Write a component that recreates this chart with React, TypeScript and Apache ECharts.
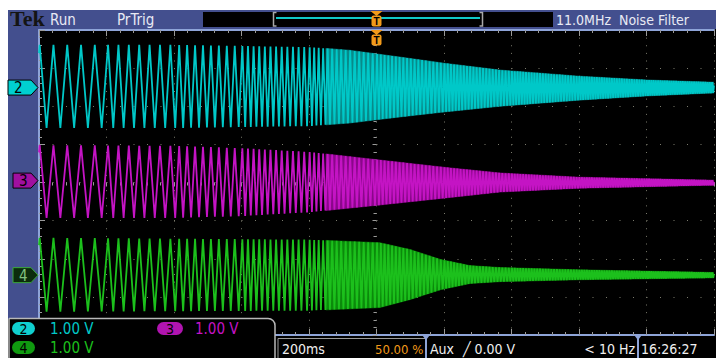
import React, { useEffect, useRef } from "react";
import * as echarts from "echarts";

// ---------- axes (200 ms/div, 1.00 V/div, trigger at 50 %) ----------
const TIME_MIN = -1000;
const TIME_MAX = 1000;
const TIME_STEP = 200;
const VOLT_MIN = -4;
const VOLT_MAX = 4;
const VOLT_STEP = 1;

// ---------- channels ----------
const channelNames = ["2", "3", "4"];
const channelOffsets = [2.49, 0.05, -2.43];
const channelScales = ["1.00 V", "1.00 V", "1.00 V"];

// envelopes: time (ms), upper / lower (V)
const ch2EnvTime = [-1000, -600, -200, -80, 70, 200, 366, 600, 800, 1000];
const ch2EnvUpper = [1.12, 1.12, 1.06, 0.98, 0.8, 0.64, 0.46, 0.3, 0.2, 0.14];
const ch2EnvLower = [-1.06, -1.06, -1.01, -0.93, -0.77, -0.64, -0.49, -0.33, -0.22, -0.14];

const ch3EnvTime = [-1000, -600, -400, -200, 10, 200, 366, 600, 1000];
const ch3EnvUpper = [0.93, 0.91, 0.85, 0.75, 0.54, 0.35, 0.2, 0.09, 0.01];
const ch3EnvLower = [-0.98, -0.98, -0.93, -0.83, -0.64, -0.46, -0.3, -0.2, -0.12];

const ch4EnvTime = [-1000, -200, 10, 100, 190, 277, 366, 600, 1000];
const ch4EnvUpper = [0.98, 0.93, 0.85, 0.67, 0.41, 0.25, 0.2, 0.14, 0.07];
const ch4EnvLower = [-0.96, -0.93, -0.85, -0.64, -0.38, -0.22, -0.17, -0.12, -0.07];

// sweep: cycles counted in each 200 ms division
const cyclesPerDiv = [4.9, 6.5, 8.5, 12, 15, 18, 21, 24, 27, 30];
const startPhase = -0.55; // cycles at left edge (0 = trough, 0.5 = crest)
const denseFrom = -150; // ms where traces merge into a band

const COLORS = {
  blue: "#434f8e",
  edge: "#8ea4d8",
  dot: "#7a7a6c",
  tick: "#9a9a9a",
  text: "#e8eaf4",
  orange: "#f29a1a",
  trace: ["#00c8c8", "#c414c4", "#1cc01c"],
  band: ["#078a8a", "#8a078a", "#0b8a0b"],
};

function interp(ts: number[], vs: number[], t: number) {
  if (t <= ts[0]) return vs[0];
  for (let i = 1; i < ts.length; i++) {
    if (t <= ts[i]) {
      const f = (t - ts[i - 1]) / (ts[i] - ts[i - 1]);
      return vs[i - 1] + (vs[i] - vs[i - 1]) * f;
    }
  }
  return vs[vs.length - 1];
}

function buildTrace(envT: number[], envU: number[], envL: number[], off: number) {
  const pts: number[][] = [];
  const val = (t: number, ph: number) => {
    const u = interp(envT, envU, t);
    const l = interp(envT, envL, t);
    const f = ph - Math.floor(ph);
    const tri = f < 0.5 ? f * 2 : 2 - f * 2;
    return off + l + (u - l) * tri;
  };
  let ph = startPhase;
  pts.push([TIME_MIN, val(TIME_MIN, ph)]);
  for (let d = 0; d < cyclesPerDiv.length; d++) {
    const t0 = TIME_MIN + d * TIME_STEP;
    const c = cyclesPerDiv[d];
    const ph1 = ph + c;
    let h = Math.floor(ph * 2) / 2 + 0.5;
    while (h <= ph1 + 1e-9) {
      const t = t0 + ((h - ph) / c) * TIME_STEP;
      pts.push([t, val(t, h)]);
      h += 0.5;
    }
    ph = ph1;
  }
  pts.push([TIME_MAX, val(TIME_MAX, ph)]);
  return pts;
}

// band segments: [t0, upper0, lower0, t1, upper1, lower1]
function buildBand(envT: number[], envU: number[], envL: number[], off: number) {
  const ts = [denseFrom, ...envT.filter((t) => t > denseFrom)];
  const segs: number[][] = [];
  for (let i = 0; i < ts.length - 1; i++) {
    const a = ts[i], b = ts[i + 1];
    segs.push([
      a, off + interp(envT, envU, a), off + interp(envT, envL, a),
      b, off + interp(envT, envU, b), off + interp(envT, envL, b),
    ]);
  }
  return segs;
}

const FONT = '"Liberation Sans Narrow", "DejaVu Sans Condensed", "Roboto Condensed", sans-serif';

export default function App() {
  const ref = useRef<HTMLDivElement>(null);
  useEffect(() => {
    const el = ref.current!;
    const chart = echarts.init(el, undefined, { renderer: "svg", width: 716, height: 358 });

    const envs = [
      [ch2EnvTime, ch2EnvUpper, ch2EnvLower],
      [ch3EnvTime, ch3EnvUpper, ch3EnvLower],
      [ch4EnvTime, ch4EnvUpper, ch4EnvLower],
    ];
    const series: any[] = [];
    envs.forEach(([t, u, l], i) => {
      const off = channelOffsets[i];
      const color = COLORS.band[i];
      series.push({
        type: "custom", data: buildBand(t, u, l, off), silent: true, z: 1, clip: true,
        encode: { x: [0, 3], y: [1, 2, 4, 5] },
        renderItem: (params: any, api: any) => {
          const p0 = api.coord([api.value(0), api.value(1)]);
          const p1 = api.coord([api.value(3), api.value(4)]);
          const p2 = api.coord([api.value(3), api.value(5)]);
          const p3 = api.coord([api.value(0), api.value(2)]);
          return {
            type: "polygon",
            shape: { points: [p0, p1, p2, p3] },
            style: { fill: color, stroke: color, lineWidth: 0.6 },
          };
        },
      });
      series.push({
        type: "line", data: buildTrace(t, u, l, off), symbol: "none", silent: true, z: 3,
        lineStyle: { width: 1.8, color: COLORS.trace[i] },
      });
    });

    const baseX = {
      type: "value", min: TIME_MIN, max: TIME_MAX, interval: TIME_STEP,
      axisLabel: { show: false }, splitLine: { show: false },
      axisTick: { show: true, inside: true, length: 6, lineStyle: { color: COLORS.tick } },
      minorTick: { show: true, splitNumber: 5, length: 3, lineStyle: { color: COLORS.tick } },
    };
    const baseY = {
      type: "value", min: VOLT_MIN, max: VOLT_MAX, interval: VOLT_STEP,
      axisLabel: { show: false }, splitLine: { show: false },
      axisTick: { show: true, inside: true, length: 6, lineStyle: { color: COLORS.tick } },
      minorTick: { show: true, splitNumber: 5, length: 3, lineStyle: { color: COLORS.tick } },
    };

    chart.setOption({
      animation: false,
      backgroundColor: "#000",
      grid: { left: 39, top: 30, width: 675, height: 305 },
      xAxis: [
        {
          ...baseX, position: "bottom",
          axisLine: { show: true, onZero: false, lineStyle: { color: COLORS.edge, width: 2 } },
          splitLine: { show: true, lineStyle: { color: COLORS.dot, width: 1, type: [1, 6.625] } },
        },
        {
          ...baseX, position: "top",
          axisLine: { show: true, onZero: false, lineStyle: { color: COLORS.edge, width: 2 } },
        },
        {
          ...baseX, position: "bottom",
          axisLine: { show: true, onZero: true, lineStyle: { color: "rgba(0,0,0,0)" } },
          axisTick: { show: true, inside: false, length: 4, lineStyle: { color: COLORS.tick } },
        },
      ],
      yAxis: [
        {
          ...baseY, position: "left",
          axisLine: { show: true, onZero: false, lineStyle: { color: COLORS.edge, width: 2 } },
          splitLine: { show: true, lineStyle: { color: COLORS.dot, width: 1, type: [1, 12.5] } },
        },
        {
          ...baseY, position: "left",
          axisLine: { show: true, onZero: true, lineStyle: { color: "rgba(0,0,0,0)" } },
          axisTick: { show: true, inside: false, length: 4, lineStyle: { color: COLORS.tick } },
        },
      ],
      series,
    });

    const px = (t: number, v: number) =>
      chart.convertToPixel({ xAxisIndex: 0, yAxisIndex: 0 }, [t, v]) as number[];
    const trigX = px(0, 0)[0];

    const txt = (x: number, y: number, text: string, fill: string, size = 14, extra: any = {}) => ({
      type: "text", x, y, z: 110,
      style: { text, fill, font: `${size}px ${FONT}`, align: "left", verticalAlign: "middle", ...extra },
    });
    const rect = (x: number, y: number, w: number, h: number, style: any, r: any = 0) => ({
      type: "rect", z: 100, shape: { x, y, width: w, height: h, r }, style,
    });

    const g: any[] = [];
    // margins and frame
    g.push(rect(0, 0, 716, 10, { fill: "#fff" }));
    g.push(rect(0, 0, 8, 358, { fill: "#fff" }));
    g.push(rect(8, 10, 708, 19, { fill: COLORS.blue }));
    g.push(rect(8, 29, 30, 290, { fill: COLORS.blue }));
    // header
    g.push({
      type: "text", x: 10, y: 18.5, z: 110,
      style: { text: "Tek", fill: "#141414", font: 'bold 22px "Liberation Serif", "DejaVu Serif", serif', verticalAlign: "middle" },
    });
    g.push(txt(50, 19.5, "Run", COLORS.text, 15));
    g.push(txt(117, 19.5, "PrTrig", COLORS.text, 15));
    g.push(txt(556, 19.5, "11.0MHz  Noise Filter", COLORS.text, 14));
    // record view
    g.push(rect(203, 12, 350, 15, { fill: "#000" }));
    g.push({ type: "polyline", z: 101, shape: { points: [[276.5, 12.5], [273.5, 12.5], [273.5, 26], [276.5, 26]] }, style: { stroke: "#a8a8a8", lineWidth: 1.5, fill: null } });
    g.push({ type: "polyline", z: 101, shape: { points: [[479.5, 12.5], [482.5, 12.5], [482.5, 26], [479.5, 26]] }, style: { stroke: "#a8a8a8", lineWidth: 1.5, fill: null } });
    g.push({ type: "line", z: 101, shape: { x1: 276, y1: 18, x2: 480, y2: 18 }, style: { stroke: "#10c8c8", lineWidth: 2 } });
    // trigger position markers
    [11, 30].forEach((yy) => {
      g.push({ type: "polygon", z: 102, shape: { points: [[trigX - 6, yy], [trigX + 6, yy], [trigX, yy + 5]] }, style: { fill: COLORS.orange } });
      g.push({ ...rect(trigX - 5, yy + 4.5, 10, 11, { fill: COLORS.orange }, 2), z: 102 });
      g.push({
        type: "text", x: trigX, y: yy + 10.5, z: 110,
        style: { text: "T", fill: "#000", font: "bold 10px sans-serif", align: "center", verticalAlign: "middle" },
      });
    });
    // channel ground markers
    const markerFill = ["#00d0d0", "#a010a0", "#0c2c0c"];
    const markerStroke = ["#000", "#000", "#3aa83a"];
    const markerText = ["#000", "#000", "#80c080"];
    const markerLeft = [8, 13, 13];
    channelOffsets.forEach((off, i) => {
      const y = px(0, off)[1];
      const l = markerLeft[i];
      g.push({
        type: "polygon", z: 101,
        shape: { points: [[l, y - 7.5], [31, y - 7.5], [38, y], [31, y + 7.5], [l, y + 7.5]] },
        style: { fill: markerFill[i], stroke: markerStroke[i], lineWidth: 1 },
      });
      g.push(txt(l + 6, y + 0.5, channelNames[i], markerText[i], 15));
    });
    // bottom-left channel readout
    g.push(rect(9, 318.5, 266, 45, { fill: "#000", stroke: "#b8b8b8", lineWidth: 1.5 }, [0, 7, 0, 0]));
    const badge = [
      { x: 12, y: 322, w: 23, fill: "#10d0d0", tx: 50 },
      { x: 157, y: 322, w: 26, fill: "#b014b0", tx: 195 },
      { x: 12, y: 341, w: 23, fill: "#109a10", tx: 50 },
    ];
    badge.forEach((b, i) => {
      g.push({ ...rect(b.x, b.y, b.w, 13, { fill: b.fill }, 6.5), z: 102 });
      g.push({
        type: "text", x: b.x + b.w / 2, y: b.y + 7, z: 110,
        style: { text: channelNames[i], fill: "#000", font: `14px ${FONT}`, align: "center", verticalAlign: "middle" },
      });
      g.push(txt(b.tx, b.y + 7, channelScales[i], COLORS.trace[i], 15));
    });
    // bottom status bar
    g.push({ type: "polyline", z: 101, shape: { points: [[278, 358], [278, 338.5], [426, 338.5]] }, style: { stroke: "#9a9a9a", lineWidth: 1, fill: null } });
    [426, 638].forEach((sx) => {
      g.push({ type: "line", z: 101, shape: { x1: sx, y1: 335, x2: sx, y2: 358 }, style: { stroke: COLORS.edge, lineWidth: 2 } });
      g.push({ type: "polygon", z: 101, shape: { points: [[sx - 4, 335], [sx + 4, 335], [sx, 340]] }, style: { fill: COLORS.edge } });
    });
    g.push(txt(282, 349, "200ms", "#f0f0f0"));
    g.push(txt(375, 349, "50.00 %", COLORS.orange, 13));
    g.push(txt(430, 349, "Aux", "#f0f0f0"));
    g.push(txt(463, 349, "\u2571 0.00 V", "#f0f0f0"));
    g.push(txt(635, 349, "< 10 Hz", "#f0f0f0", 14, { align: "right" }));
    g.push(txt(641, 349, "16:26:27", "#f0f0f0"));

    chart.setOption({ graphic: g });
    return () => chart.dispose();
  }, []);
  return <div ref={ref} style={{ position: "fixed", left: 0, top: 0, width: 716, height: 358 }} />;
}
